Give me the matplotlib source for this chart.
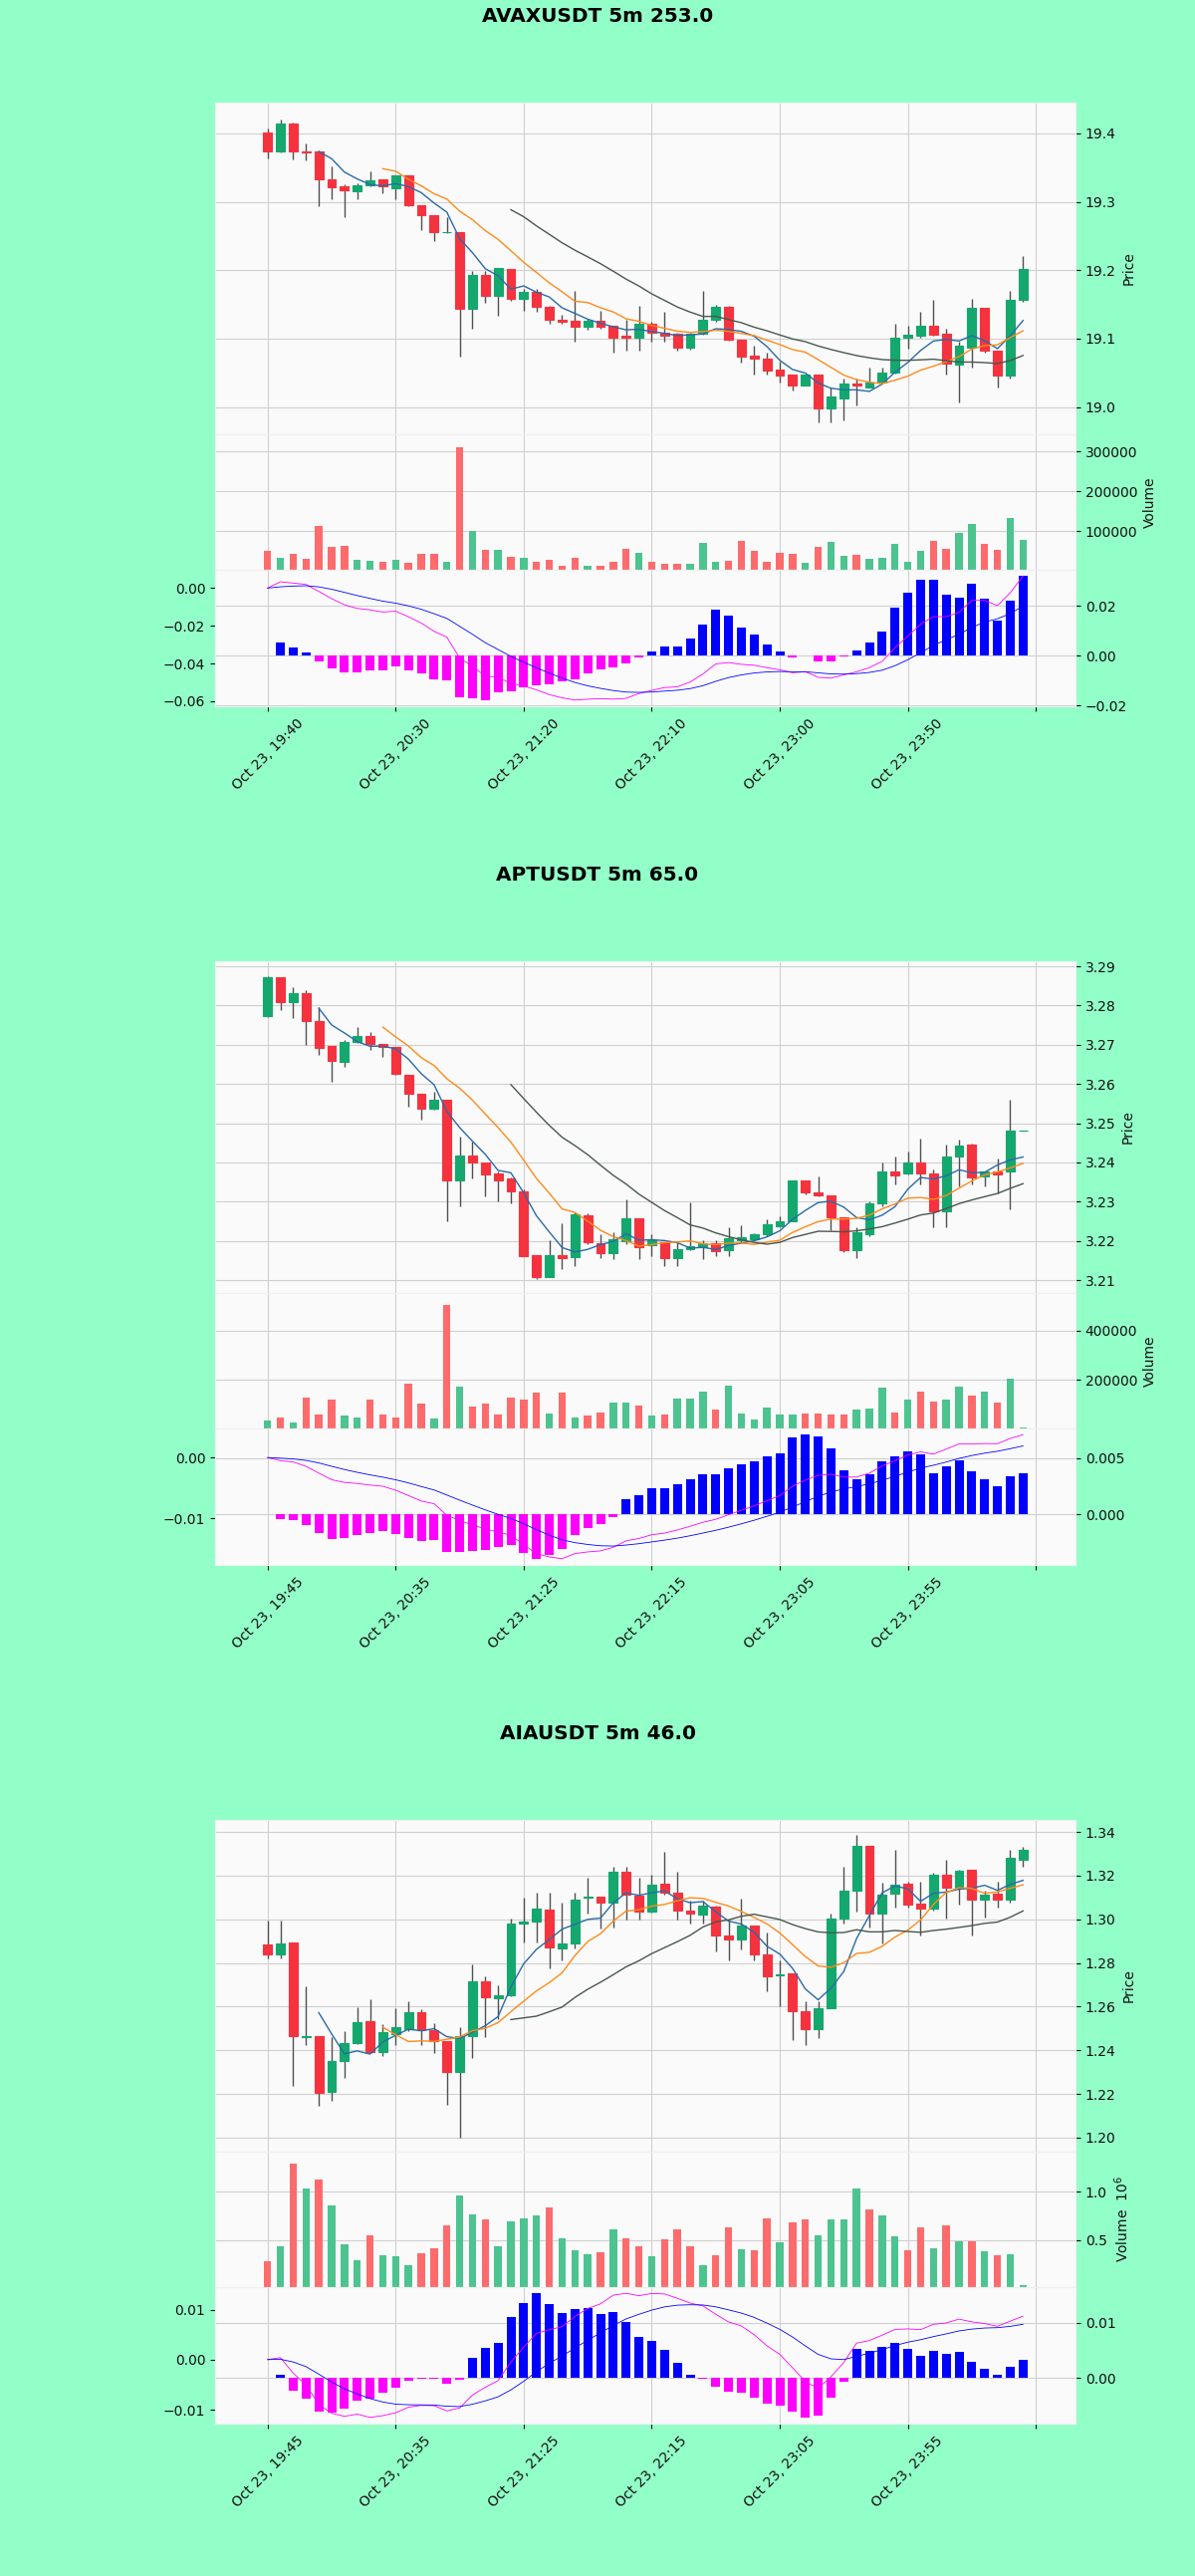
import numpy as np
import pandas as pd
import matplotlib
matplotlib.use("Agg")
import matplotlib.pyplot as plt
from matplotlib.ticker import MultipleLocator, FuncFormatter

# ---------------- data ----------------
avax_open = [19.401,19.373,19.415,19.374,19.373,19.333,19.323,19.316,19.324,19.333,
             19.320,19.338,19.295,19.280,19.255,19.255,19.144,19.193,19.163,19.202,
             19.158,19.169,19.147,19.128,19.126,19.117,19.126,19.119,19.104,19.102,
             19.121,19.109,19.107,19.086,19.107,19.127,19.146,19.098,19.075,19.071,
             19.054,19.047,19.031,19.047,18.998,19.012,19.034,19.029,19.036,19.051,
             19.101,19.104,19.119,19.107,19.062,19.087,19.145,19.082,19.046,19.157]
avax_high = [19.407,19.420,19.416,19.385,19.375,19.352,19.325,19.327,19.345,19.333,
             19.338,19.338,19.295,19.280,19.278,19.256,19.199,19.199,19.203,19.202,
             19.173,19.172,19.148,19.135,19.170,19.129,19.141,19.119,19.128,19.148,
             19.124,19.139,19.108,19.109,19.170,19.150,19.148,19.098,19.090,19.080,
             19.066,19.048,19.048,19.048,19.029,19.041,19.041,19.058,19.058,19.121,
             19.119,19.139,19.157,19.115,19.095,19.158,19.145,19.082,19.170,19.221]
avax_low = [19.364,19.372,19.362,19.360,19.293,19.303,19.278,19.304,19.323,19.313,
            19.303,19.293,19.259,19.243,19.254,19.073,19.115,19.152,19.134,19.155,
            19.141,19.139,19.122,19.122,19.095,19.113,19.115,19.080,19.082,19.082,
            19.095,19.095,19.083,19.084,19.105,19.124,19.097,19.065,19.048,19.048,
            19.036,19.024,19.031,18.978,18.978,18.981,19.002,19.029,19.036,19.049,
            19.085,19.102,19.104,19.047,19.007,19.057,19.080,19.029,19.041,19.153]
avax_close = [19.373,19.415,19.374,19.372,19.333,19.321,19.317,19.324,19.331,19.323,
              19.338,19.295,19.280,19.255,19.256,19.144,19.193,19.163,19.203,19.158,
              19.168,19.147,19.128,19.124,19.117,19.126,19.117,19.102,19.102,19.121,
              19.109,19.104,19.086,19.107,19.128,19.147,19.098,19.073,19.071,19.053,
              19.046,19.031,19.047,18.998,19.015,19.034,19.031,19.036,19.051,19.102,
              19.105,19.119,19.105,19.063,19.090,19.145,19.082,19.046,19.157,19.202]
avax_volume = [51000,35000,43000,32000,114000,62000,63000,28000,26000,23000,
               30000,21000,43000,45000,25000,312000,101000,53000,53000,36000,
               35000,24000,28000,15000,35000,13000,15000,24000,56000,47000,
               25000,19000,19000,19000,72000,24000,26000,76000,51000,24000,
               46000,45000,22000,62000,74000,40000,42000,32000,34000,68000,
               24000,51000,77000,57000,95000,119000,70000,55000,133000,78000]

apt_open = [3.2774,3.2873,3.2808,3.2831,3.2761,3.2697,3.2657,3.2706,3.2722,3.2703,
            3.2695,3.2623,3.2574,3.2537,3.2560,3.2355,3.2418,3.2401,3.2372,3.2359,
            3.2327,3.2163,3.2108,3.2163,3.2159,3.2266,3.2193,3.2168,3.2200,3.2257,
            3.2190,3.2196,3.2157,3.2178,3.2185,3.2193,3.2176,3.2201,3.2204,3.2217,
            3.2238,3.2251,3.2354,3.2324,3.2317,3.2259,3.2176,3.2217,3.2295,3.2376,
            3.2372,3.2399,3.2373,3.2276,3.2416,3.2445,3.2365,3.2376,3.2376,3.2481]
apt_high = [3.2875,3.2873,3.2846,3.2839,3.2797,3.2697,3.2712,3.2746,3.2733,3.2703,
            3.2695,3.2623,3.2574,3.2581,3.2560,3.2466,3.2454,3.2401,3.2378,3.2362,
            3.2330,3.2163,3.2201,3.2244,3.2274,3.2269,3.2217,3.2221,3.2306,3.2257,
            3.2218,3.2196,3.2198,3.2297,3.2201,3.2201,3.2235,3.2240,3.2219,3.2255,
            3.2263,3.2354,3.2354,3.2365,3.2317,3.2259,3.2235,3.2301,3.2401,3.2416,
            3.2427,3.2461,3.2382,3.2445,3.2458,3.2447,3.2376,3.2410,3.2560,3.2481]
apt_low = [3.2772,3.2788,3.2767,3.2699,3.2674,3.2605,3.2644,3.2704,3.2687,3.2670,
           3.2623,3.2543,3.2509,3.2535,3.2251,3.2289,3.2359,3.2314,3.2301,3.2295,
           3.2162,3.2102,3.2108,3.2128,3.2136,3.2191,3.2157,3.2153,3.2191,3.2153,
           3.2162,3.2136,3.2136,3.2175,3.2153,3.2162,3.2162,3.2195,3.2202,3.2212,
           3.2234,3.2251,3.2318,3.2314,3.2227,3.2170,3.2157,3.2213,3.2289,3.2344,
           3.2369,3.2344,3.2234,3.2234,3.2339,3.2344,3.2339,3.2322,3.2280,3.2481]
apt_close = [3.2873,3.2808,3.2832,3.2761,3.2693,3.2659,3.2706,3.2722,3.2701,3.2695,
             3.2625,3.2574,3.2537,3.2560,3.2355,3.2418,3.2401,3.2369,3.2355,3.2325,
             3.2162,3.2108,3.2163,3.2157,3.2267,3.2196,3.2168,3.2204,3.2257,3.2183,
             3.2202,3.2157,3.2178,3.2187,3.2193,3.2174,3.2207,3.2210,3.2217,3.2242,
             3.2251,3.2354,3.2324,3.2317,3.2259,3.2176,3.2221,3.2295,3.2376,3.2367,
             3.2399,3.2371,3.2276,3.2416,3.2444,3.2362,3.2376,3.2369,3.2481,3.2481]
apt_volume = [34000,48000,26000,129000,60000,121000,54000,48000,121000,57000,
              48000,186000,105000,44000,502000,173000,91000,105000,60000,129000,
              121000,146000,64000,146000,48000,53000,67000,107000,107000,94000,
              53000,60000,122000,125000,150000,80000,177000,64000,39000,87000,
              57000,57000,64000,64000,60000,60000,78000,84000,166000,67000,
              118000,150000,112000,118000,170000,136000,152000,107000,203000,7000]

aia_open = [1.2884,1.2839,1.2892,1.2460,1.2466,1.2208,1.2352,1.2433,1.2535,1.2392,
            1.2475,1.2498,1.2573,1.2494,1.2441,1.2299,1.2463,1.2716,1.2638,1.2651,
            1.2982,1.2989,1.3044,1.2866,1.2889,1.3098,1.3104,1.3077,1.3220,1.3107,
            1.3035,1.3164,1.3122,1.3042,1.3020,1.3059,1.2926,1.2908,1.2971,1.2839,
            1.2743,1.2753,1.2580,1.2498,1.2592,1.3005,1.3129,1.3335,1.3024,1.3119,
            1.3164,1.3074,1.3047,1.3205,1.3144,1.3227,1.3089,1.3119,1.3089,1.3272]
aia_high = [1.2994,1.2994,1.2892,1.2693,1.2466,1.2460,1.2490,1.2598,1.2633,1.2520,
            1.2595,1.2626,1.2588,1.2523,1.2441,1.2505,1.2794,1.2738,1.2698,1.3002,
            1.3099,1.3122,1.3122,1.3077,1.3122,1.3189,1.3104,1.3242,1.3239,1.3189,
            1.3205,1.3310,1.3220,1.3084,1.3084,1.3062,1.2998,1.3095,1.2971,1.2941,
            1.2814,1.2753,1.2626,1.2626,1.3024,1.3242,1.3385,1.3335,1.3167,1.3317,
            1.3174,1.3174,1.3212,1.3272,1.3227,1.3227,1.3129,1.3174,1.3317,1.3332]
aia_low = [1.2821,1.2821,1.2235,1.2423,1.2144,1.2167,1.2272,1.2430,1.2388,1.2373,
           1.2423,1.2490,1.2423,1.2388,1.2152,1.2002,1.2367,1.2460,1.2543,1.2648,
           1.2896,1.2896,1.2776,1.2814,1.2866,1.3024,1.2956,1.2964,1.2998,1.2998,
           1.3032,1.3114,1.2998,1.2979,1.2979,1.2854,1.2814,1.2863,1.2814,1.2671,
           1.2603,1.2445,1.2423,1.2457,1.2592,1.2979,1.3035,1.2964,1.2889,1.3054,
           1.3054,1.2926,1.3039,1.3002,1.3069,1.2926,1.3009,1.3054,1.3077,1.3242]
aia_close = [1.2839,1.2889,1.2463,1.2466,1.2205,1.2352,1.2433,1.2531,1.2392,1.2483,
             1.2505,1.2573,1.2494,1.2441,1.2299,1.2463,1.2716,1.2644,1.2651,1.2979,
             1.2991,1.3047,1.2869,1.2889,1.3089,1.3104,1.3077,1.3220,1.3114,1.3036,
             1.3159,1.3122,1.3039,1.3024,1.3062,1.2926,1.2908,1.2971,1.2839,1.2738,
             1.2749,1.2580,1.2498,1.2592,1.3005,1.3129,1.3335,1.3024,1.3114,1.3159,
             1.3069,1.3047,1.3205,1.3144,1.3224,1.3092,1.3114,1.3089,1.3280,1.3317]
aia_volume = [274000,438000,1288000,1035000,1125000,861000,455000,288000,549000,340000,
              333000,236000,361000,413000,653000,965000,767000,708000,438000,688000,
              722000,757000,837000,514000,392000,351000,375000,611000,514000,438000,
              333000,507000,611000,438000,236000,340000,628000,403000,392000,726000,
              472000,681000,715000,549000,715000,715000,1035000,819000,750000,535000,
              392000,628000,413000,653000,490000,490000,378000,344000,351000,30000]

avax_ticks = ['Oct 23, 19:40', 'Oct 23, 20:30', 'Oct 23, 21:20', 'Oct 23, 22:10',
              'Oct 23, 23:00', 'Oct 23, 23:50', '']
apt_ticks = ['Oct 23, 19:45', 'Oct 23, 20:35', 'Oct 23, 21:25', 'Oct 23, 22:15',
             'Oct 23, 23:05', 'Oct 23, 23:55', '']
aia_ticks = apt_ticks

titles = ['AVAXUSDT 5m 253.0', 'APTUSDT 5m 65.0', 'AIAUSDT 5m 46.0']
mav_windows = [5, 10, 20]

# ---------------- style ----------------
W, H = 1200, 2586
FIG_BG = '#93ffc8'
AX_BG = '#fafafa'
GRID = '#d0d0d0'
UP, DOWN = '#14a86e', '#f5333f'
VUP, VDOWN = '#4dc390', '#fd6b6c'
WICK = '#505050'
MAV_COLORS = ['#2a6aa8', '#ff8a1a', '#48574f']
TXT = '#101010'

plt.rcParams['font.family'] = ['DejaVu Sans']
fig = plt.figure(figsize=(W / 100, H / 100), dpi=100, facecolor=FIG_BG)


def add_ax(top, bottom):
    return fig.add_axes([216 / W, 1 - bottom / H, 864 / W, (bottom - top) / H])


def style_ax(ax):
    ax.set_facecolor(AX_BG)
    for s in ax.spines.values():
        s.set_color('#f0f0f0')
    ax.tick_params(colors=TXT, labelsize=10)


def draw_block(k, title, o, h, l, c, v, tick_labels, ylim, pstep, lstep, rstep, vol_exp=0):
    off = 862 * k
    o, h, l, c, v = (np.asarray(a, dtype=float) for a in (o, h, l, c, v))
    n = len(c)
    x = np.arange(n)
    fig.text(0.5, 1 - (16.5 + off) / H, title, ha='center', va='center',
             fontsize=14.4, fontweight='bold', color='black')

    axp = add_ax(103 + off, 436 + off)
    axv = add_ax(436 + off, 572 + off)
    axm = add_ax(572 + off, 709 + off)
    for ax in (axp, axv, axm):
        style_ax(ax)
        ax.set_xlim(-4.1, 63.1)
        ax.set_xticks(range(0, 61, 10))
        ax.grid(True, color=GRID, lw=0.8)
        ax.set_axisbelow(True)
        ax.yaxis.tick_right()
        ax.yaxis.set_label_position('right')
    for ax in (axp, axv):
        ax.tick_params(axis='x', length=0, labelbottom=False)

    # price
    up = c >= o
    ccol = np.where(up, UP, DOWN)
    axp.vlines(x, l, h, color=WICK, lw=1.0, zorder=2)
    axp.bar(x, c - o, bottom=o, width=0.68, color=ccol, edgecolor=ccol,
            lw=0.8, zorder=3)
    cs = pd.Series(c)
    for w, col in zip(mav_windows, MAV_COLORS):
        axp.plot(x, cs.rolling(w).mean().values, color=col, lw=1.0, zorder=4)
    axp.set_ylim(*ylim)
    axp.yaxis.set_major_locator(MultipleLocator(pstep))
    axp.set_ylabel('Price', color=TXT)

    # volume
    vcol = np.where(up, VUP, VDOWN)
    axv.bar(x, v, width=0.58, color=vcol, zorder=3)
    axv.set_ylim(0.3 * v.min(), 1.1 * v.max())
    if vol_exp:
        axv.yaxis.set_major_formatter(
            FuncFormatter(lambda val, pos: f'{val / 10 ** vol_exp:.1f}'))
        axv.set_ylabel('Volume  $10^{%d}$' % vol_exp, color=TXT)
    else:
        axv.set_ylabel('Volume', color=TXT)

    # MACD: positive histogram bars drawn at twice the DIF-DEA gap,
    # negative bars at the plain gap (as in the source chart)
    ema12 = cs.ewm(span=12, adjust=False).mean()
    ema26 = cs.ewm(span=26, adjust=False).mean()
    macd = ema12 - ema26
    signal = macd.ewm(span=9, adjust=False).mean()
    diff = (macd - signal).values
    hist = np.where(diff >= 0, 2 * diff, diff)
    hcol = np.where(hist >= 0, '#0000ff', '#ff00ff')
    axm.bar(x, hist, width=0.7, color=hcol, zorder=3)
    axl = axm.twinx()
    for s in axl.spines.values():
        s.set_color('#f0f0f0')
    axm.yaxis.tick_right()
    axl.yaxis.tick_left()
    axl.tick_params(colors=TXT, labelsize=10)
    axl.plot(x, macd.values, color='#ff00ff', lw=0.6)
    axl.plot(x, signal.values, color='#0000ff', lw=0.6)
    axl.yaxis.set_major_locator(MultipleLocator(lstep))
    axm.yaxis.set_major_locator(MultipleLocator(rstep))
    axm.set_xticks(range(0, 61, 10))
    axm.set_xticklabels(tick_labels, rotation=45, ha='center')
    axm.set_xlim(-4.1, 63.1)


draw_block(0, titles[0], avax_open, avax_high, avax_low, avax_close, avax_volume,
           avax_ticks, (18.960, 19.445), 0.1, 0.02, 0.02)
draw_block(1, titles[1], apt_open, apt_high, apt_low, apt_close, apt_volume,
           apt_ticks, (3.2067, 3.2913), 0.01, 0.01, 0.005)
draw_block(2, titles[2], aia_open, aia_high, aia_low, aia_close, aia_volume,
           aia_ticks, (1.1936, 1.3455), 0.02, 0.01, 0.01, vol_exp=6)

fig.savefig('out.png', dpi=100, facecolor=FIG_BG)
